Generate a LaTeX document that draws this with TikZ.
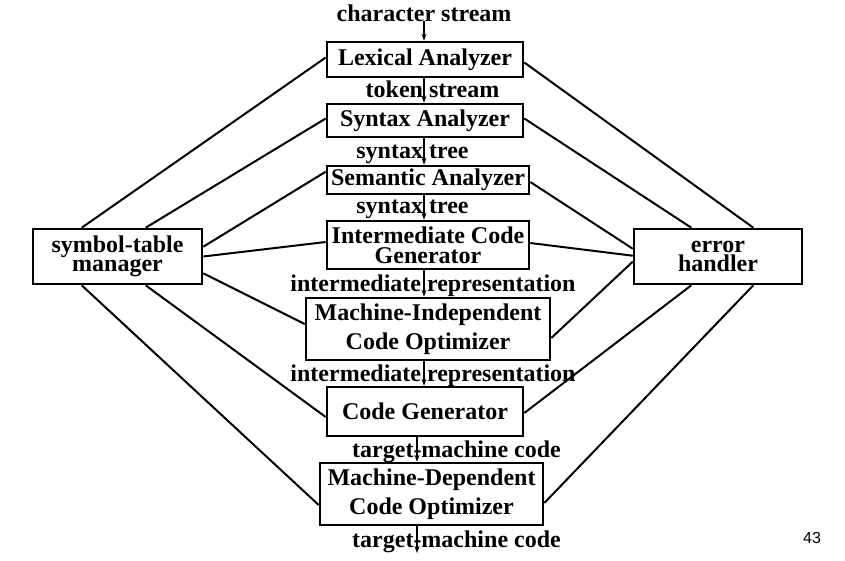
\documentclass[tikz,border=0pt]{standalone}
\usepackage{fontspec}
\setmainfont{Liberation Serif}
\newfontfamily\pagenumfont{Liberation Sans}
\usetikzlibrary{arrows.meta, positioning}
\definecolor{inkblack}{RGB}{0, 0, 0}

\begin{document}
\begin{tikzpicture}[
    x=1pt, y=-1pt,
    phase/.style={rectangle, draw=inkblack, line width=2.6pt, inner sep=0pt, align=center, font=\fontsize{24}{20}\selectfont\bfseries},
    flowlabel/.style={anchor=base, inner sep=0pt, font=\fontsize{24}{24}\selectfont\bfseries},
    flow/.style={-{Stealth[length=7pt, width=5pt]}, line width=1.1pt, color=inkblack},
    link/.style={line width=2pt, color=inkblack},
]
\useasboundingbox (0,0) rectangle (845,560);

% Compiler phases
\node[phase, minimum width=196pt, minimum height=35pt] (lex) at (425, 59.5) {Lexical Analyzer};
\node[phase, minimum width=196pt, minimum height=33pt] (syn) at (425, 120.5) {Syntax Analyzer};
\node[phase, minimum width=202pt, minimum height=28pt] (sem) at (428, 180) {Semantic Analyzer};
\node[phase, minimum width=202pt, minimum height=48pt] (icg) at (428, 245) {Intermediate Code\\Generator};
\node[phase, minimum width=244pt, minimum height=62pt, font=\fontsize{24}{29}\selectfont\bfseries] (mio) at (428, 329) {Machine-Independent\\Code Optimizer};
\node[phase, minimum width=196pt, minimum height=49pt] (cg) at (425, 411.5) {Code Generator};
\node[phase, minimum width=223pt, minimum height=62pt, font=\fontsize{24}{29}\selectfont\bfseries] (mdo) at (431.5, 494) {Machine-Dependent\\Code Optimizer};

% Side boxes
\node[phase, minimum width=169pt, minimum height=55pt, font=\fontsize{24}{19}\selectfont\bfseries] (sym) at (117.5, 256.5) {symbol-table\\manager};
\node[phase, minimum width=168pt, minimum height=55pt, font=\fontsize{24}{19}\selectfont\bfseries] (err) at (718, 256.5) {error\\handler};

% Stream labels
\node[flowlabel] (chars) at (424, 21) {character stream};
\node[flowlabel] (tokens) at (432.5, 97) {token stream};
\node[flowlabel] (tree1) at (412.5, 158) {syntax tree};
\node[flowlabel] (tree2) at (412.5, 213) {syntax tree};
\node[flowlabel] (ir1) at (433, 291) {intermediate representation};
\node[flowlabel] (ir2) at (433, 381) {intermediate representation};
\node[flowlabel] (tmc1) at (456.5, 457) {target-machine code};
\node[flowlabel] (tmc2) at (456.5, 547) {target-machine code};

\node[font=\pagenumfont\fontsize{16}{16}\selectfont] (pagenum) at (812, 538) {43};

% Main flow
\coordinate (ax) at (424, 0);
\coordinate (bx) at (417, 0);
\coordinate (outend) at (417, 553);
\draw[flow] (chars.base -| ax) -- (lex.north -| ax);
\draw[flow] (lex.south -| ax) -- (syn.north -| ax);
\draw[flow] (syn.south -| ax) -- (sem.north -| ax);
\draw[flow] (sem.south -| ax) -- (icg.north -| ax);
\draw[flow] (icg.south -| ax) -- (mio.north -| ax);
\draw[flow] (mio.south -| ax) -- (cg.north -| ax);
\draw[flow] (cg.south -| bx) -- (mdo.north -| bx);
\draw[flow] (mdo.south -| bx) -- (outend);

% Symbol-table links
\draw[link] ([xshift=50pt]sym.north west) -- ([yshift=2pt]lex.west);
\draw[link] ([xshift=114pt]sym.north west) -- ([yshift=2pt]syn.west);
\draw[link] ([yshift=-19pt]sym.north east) -- ([yshift=-7pt]sem.north west);
\draw[link] (sym.east) -- ([yshift=3pt]icg.west);
\draw[link] ([yshift=12pt]sym.south east) -- ([yshift=5pt]mio.west);
\draw[link] ([xshift=114pt]sym.south west) -- ([yshift=-5.5pt]cg.west);
\draw[link] ([xshift=50pt]sym.south west) -- ([yshift=-11pt]mdo.west);

% Error-handler links
\draw[link] ([yshift=-3pt]lex.east) -- ([xshift=-50pt]err.north east);
\draw[link] ([yshift=2pt]syn.east) -- ([xshift=-112pt]err.north east);
\draw[link] ([yshift=-2pt]sem.east) -- ([yshift=-21pt]err.north west);
\draw[link] ([yshift=2pt]icg.east) -- ([yshift=-28pt]err.north west);
\draw[link] ([yshift=-9pt]mio.east) -- ([yshift=-34pt]err.north west);
\draw[link] ([yshift=-1.5pt]cg.east) -- ([xshift=-112pt]err.south east);
\draw[link] ([yshift=-9pt]mdo.east) -- ([xshift=-50pt]err.south east);

\end{tikzpicture}
\end{document}
